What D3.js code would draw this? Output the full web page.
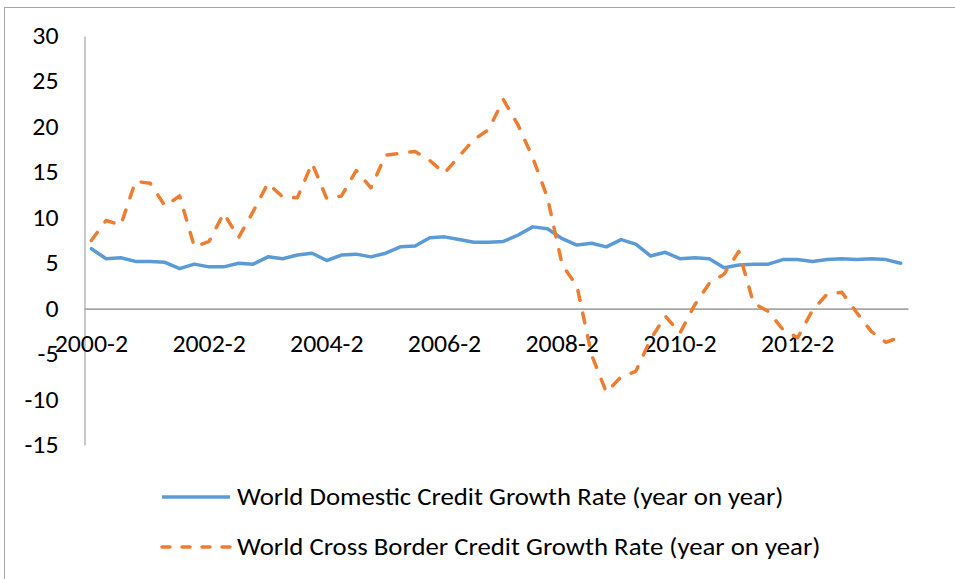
<!DOCTYPE html>
<html>
<head>
<meta charset="utf-8">
<script src="https://cdn.jsdelivr.net/npm/d3@7"></script>
<style>
  html, body { margin: 0; padding: 0; background: #fff; }
  svg { display: block; }
  text { font-family: Carlito, Calibri, Lato, "Open Sans", sans-serif; fill: #000; }
</style>
</head>
<body>
<svg id="chart" width="955" height="579"></svg>
<script>
// Quarterly periods, 2000-2 through 2014-1
const quarters = [];
for (let yr = 2000; yr <= 2014; yr++) {
  for (let q = 1; q <= 4; q++) {
    if ((yr === 2000 && q < 2) || (yr === 2014 && q > 1)) continue;
    quarters.push(yr + "-" + q);
  }
}

// World domestic credit growth, % year on year
const domesticGrowth = [
  6.6, 5.5, 5.6, 5.2, 5.2, 5.1, 4.4, 4.9, 4.6, 4.6, 5.0, 4.9, 5.7, 5.5,
  5.9, 6.1, 5.3, 5.9, 6.0, 5.7, 6.1, 6.8, 6.9, 7.8, 7.9, 7.6, 7.3, 7.3,
  7.4, 8.1, 9.0, 8.8, 7.7, 7.0, 7.2, 6.8, 7.6, 7.1, 5.8, 6.2, 5.5, 5.6,
  5.5, 4.5, 4.8, 4.9, 4.9, 5.4, 5.4, 5.2, 5.4, 5.5, 5.4, 5.5, 5.4, 5.0
];

// World cross-border credit growth, % year on year
const crossBorderGrowth = [
  7.5, 9.7, 9.2, 14.0, 13.8, 11.3, 12.4, 6.8, 7.4, 10.5, 7.8, 10.7, 13.8, 12.3,
  12.2, 16.0, 12.1, 12.4, 15.2, 13.3, 16.9, 17.1, 17.3, 16.3, 14.9, 16.8, 18.6, 19.7,
  23.0, 20.2, 16.6, 12.2, 4.8, 2.5, -5.1, -9.2, -7.5, -6.9, -3.4, -0.8, -2.7, 0.4,
  2.8, 3.8, 6.3, 0.6, -0.3, -2.3, -3.2, -0.2, 1.6, 1.8, -0.4, -2.5, -3.7, -3.1
];

const yTicks = [-15, -10, -5, 0, 5, 10, 15, 20, 25, 30];
const xTickLabels = ["2000-2", "2002-2", "2004-2", "2006-2", "2008-2", "2010-2", "2012-2"];

const seriesNames = [
  "World Domestic Credit Growth Rate (year on year)",
  "World Cross Border Credit Growth Rate (year on year)"
];
const seriesColors = ["#5B9BD5", "#ED7D31"];

const svg = d3.select("#chart");
const axisColor = "#A6A6A6";
const fontSize = 23.5;
const tickStretch = 1.1;
const legendStretch = 1.14;

// Outer frame of the chart area
svg.append("line").attr("x1", 4).attr("x2", 955).attr("y1", 7.5).attr("y2", 7.5)
  .attr("stroke", axisColor).attr("stroke-width", 1);
svg.append("line").attr("x1", 4.5).attr("x2", 4.5).attr("y1", 7).attr("y2", 579)
  .attr("stroke", axisColor).attr("stroke-width", 1);

const x = d3.scaleBand().domain(quarters).range([84, 908]).paddingInner(0).paddingOuter(0);
const xc = d => x(d) + x.bandwidth() / 2;
const y = d3.scaleLinear().domain([-15, 30]).range([445, 36]);

// Value axis (plain hyphen for negatives)
const yAxis = d3.axisLeft(y).tickValues(yTicks).tickSize(0).tickPadding(26)
  .tickFormat(d => String(d));
const gy = svg.append("g").attr("transform", "translate(84.5,0)").call(yAxis);
gy.select(".domain").attr("stroke", axisColor).attr("stroke-width", 1.2);
gy.selectAll("text")
  .attr("font-size", fontSize).attr("font-family", null).attr("fill", "#000")
  .attr("x", 0).attr("transform", `translate(-26,0) scale(${tickStretch},1)`);

// Category axis drawn along zero
const xAxis = d3.axisBottom(x).tickValues(xTickLabels).tickSize(0).tickPadding(27);
const gx = svg.append("g").attr("transform", `translate(0,${y(0)})`).call(xAxis);
gx.select(".domain").attr("stroke", axisColor).attr("stroke-width", 1.8);
gx.selectAll("text")
  .attr("font-size", fontSize).attr("font-family", null).attr("fill", "#000")
  .attr("transform", `scale(${tickStretch},1)`);

// Series lines
const line = d3.line().x((d, i) => xc(quarters[i])).y(d => y(d));

svg.append("path").datum(domesticGrowth)
  .attr("d", line).attr("fill", "none")
  .attr("stroke", seriesColors[0]).attr("stroke-width", 3.5)
  .attr("stroke-linejoin", "round").attr("stroke-linecap", "round");

svg.append("path").datum(crossBorderGrowth)
  .attr("d", line).attr("fill", "none")
  .attr("stroke", seriesColors[1]).attr("stroke-width", 3.5)
  .attr("stroke-dasharray", "10,13")
  .attr("stroke-linejoin", "round").attr("stroke-linecap", "round");

// Legend
const legend = svg.append("g");
const legendRows = [497, 547];
seriesNames.forEach((name, i) => {
  const row = legend.append("g").attr("transform", `translate(0,${legendRows[i]})`);
  row.append("line").attr("x1", 162).attr("x2", 230).attr("y1", 0).attr("y2", 0)
    .attr("stroke", seriesColors[i]).attr("stroke-width", 3.5)
    .attr("stroke-linecap", i === 1 ? "round" : "butt")
    .attr("stroke-dasharray", i === 1 ? "8,12" : null);
  row.append("text")
    .attr("transform", `translate(237,0) scale(${legendStretch},1)`)
    .attr("dy", "0.35em")
    .attr("font-size", fontSize).text(name);
});
</script>
</body>
</html>
